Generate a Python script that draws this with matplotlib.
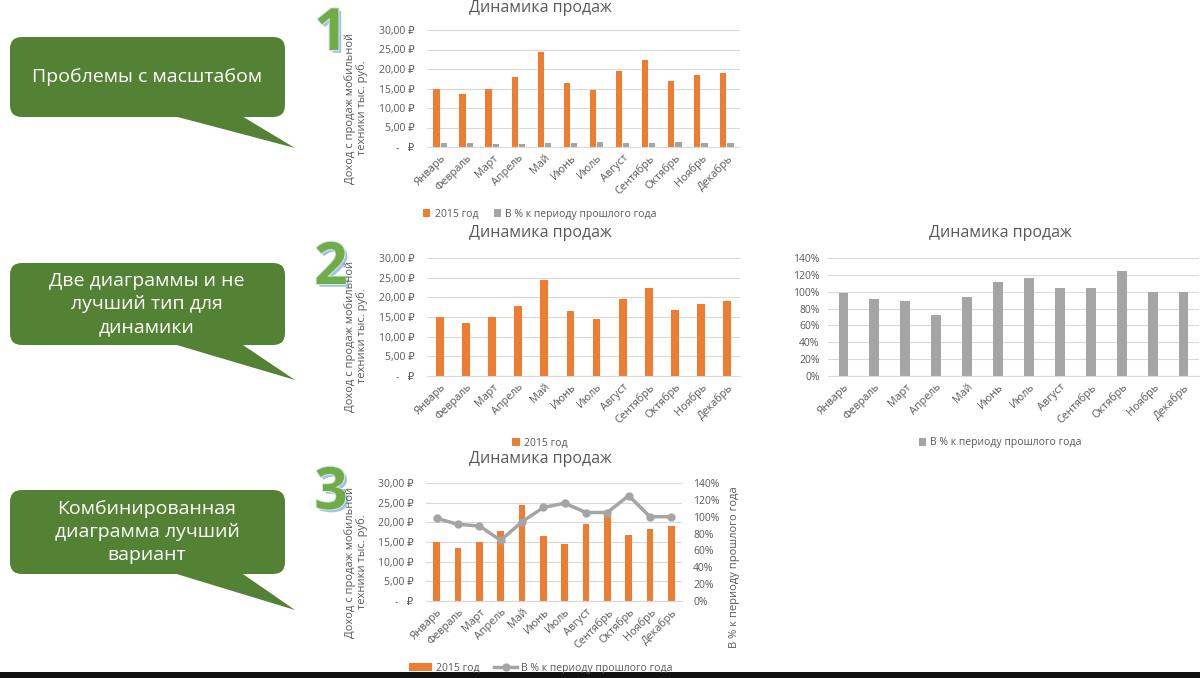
import numpy as np
import matplotlib
matplotlib.use("Agg")
import matplotlib.pyplot as plt
import matplotlib.patheffects as pe
from matplotlib.patches import FancyBboxPatch, Polygon, Rectangle
from matplotlib.ticker import FuncFormatter, MultipleLocator

plt.rcParams['font.family'] = ['Open Sans', 'DejaVu Sans']

months = ["Январь", "Февраль", "Март", "Апрель", "Май", "Июнь", "Июль",
          "Август", "Сентябрь", "Октябрь", "Ноябрь", "Декабрь"]
sales_2015 = [15.0, 13.5, 15.0, 17.9, 24.3, 16.4, 14.5, 19.5, 22.3, 16.9, 18.4, 19.0]
pct_prev = [98, 91, 89, 72, 94, 111, 116, 105, 105, 125, 100, 100]

title = "Динамика продаж"
ylab = "Доход с продаж мобильной\nтехники тыс. руб."
lab_sales = "2015 год"
lab_pct = "В % к периоду прошлого года"
notes = ["Проблемы с масштабом",
         "Две диаграммы и не\nлучший тип для\nдинамики",
         "Комбинированная\nдиаграмма лучший\nвариант"]

ORANGE = "#ED7D31"
GRAY = "#A5A5A5"
TXT = "#595959"
GRID = "#D9D9D9"
GREEN = "#548235"

W, H = 1200, 678
fig = plt.figure(figsize=(12, 6.78), dpi=100)
fig.patch.set_facecolor("white")

def ax_px(x0, y0, x1, y1):
    # pixel box (top-left origin) -> axes
    return fig.add_axes([x0 / W, 1 - y1 / H, (x1 - x0) / W, (y1 - y0) / H])

def rub(v, pos=None):
    if abs(v) < 1e-9:
        return "-   ₽"
    return f"{v:.2f} ₽".replace(".", ",")

def pct(v, pos=None):
    return f"{v:.0f}%"

def style(ax, pad=9):
    for s in ["top", "right", "left"]:
        ax.spines[s].set_visible(False)
    ax.spines["bottom"].set_color(GRID)
    ax.grid(axis="y", color=GRID, lw=0.8)
    ax.set_axisbelow(True)
    ax.tick_params(axis="y", length=0, labelsize=7.5, colors=TXT, pad=pad)
    ax.tick_params(axis="x", length=0, labelsize=7.8, colors=TXT, pad=4)
    x = np.arange(len(months))
    ax.set_xticks(x)
    ax.set_xticklabels(months, rotation=45, ha="right", rotation_mode="anchor")
    ax.set_xlim(-0.5, len(months) - 0.5)

x = np.arange(len(months))

# overlay for callouts etc.
bg = fig.add_axes([0, 0, 1, 1], zorder=-1)
bg.set_xlim(0, W)
bg.set_ylim(H, 0)
bg.axis("off")

boxes = [(37, 117, 148), (263, 345, 380), (490, 574, 610)]
for (t, b, tip), note in zip(boxes, notes):
    bg.add_patch(Polygon([(170, b - 2), (240, b - 2), (295, tip)], closed=True,
                         fc=GREEN, ec="none"))
    bg.add_patch(FancyBboxPatch((10 + 12, t + 12), 275 - 24, b - t - 24,
                                boxstyle="round,pad=12", fc=GREEN, ec="none"))
    bg.text(147, (t + b) / 2, note, color="white", fontsize=14, ha="center",
            va="center", linespacing=1.35)

bg.add_patch(Rectangle((0, 672), W, 6, fc="#111111", ec="none"))

for num, cy in [("1", 35), ("2", 269), ("3", 494)]:
    bg.text(331, cy, num, fontsize=42, fontweight="bold", color="#70AD47",
            ha="center", va="center", zorder=5,
            path_effects=[pe.withSimplePatchShadow(offset=(2, -2), shadow_rgbFace="#9DC3E6", alpha=1),
                          pe.withStroke(linewidth=1.5, foreground="#D6E4F0")])

# chart 1: both series on one axis
ax1 = ax_px(427, 30, 740, 147)
style(ax1)
w = 0.24
ax1.bar(x - 0.14, sales_2015, w, color=ORANGE, label=lab_sales)
ax1.bar(x + 0.14, np.array(pct_prev) / 100, w, color=GRAY, label=lab_pct)
ax1.set_ylim(0, 30)
ax1.yaxis.set_major_locator(MultipleLocator(5))
ax1.yaxis.set_major_formatter(FuncFormatter(rub))
fig.text(540 / W, 1 - 8 / H, title, fontsize=11.5, color=TXT, ha="center", va="center")
fig.text(356 / W, 1 - 108 / H, ylab, fontsize=8, color=TXT, rotation=90,
         ha="center", va="center", linespacing=1.1)
ax1.legend(loc="center", bbox_to_anchor=(540 / W, 1 - 214 / H), bbox_transform=fig.transFigure,
           ncol=2, frameon=False, fontsize=7.5, labelcolor=TXT, handlelength=0.7,
           handleheight=0.7, columnspacing=1.5, handletextpad=0.4)

# chart 2: sales only
ax2 = ax_px(427, 258, 740, 376)
style(ax2)
ax2.bar(x, sales_2015, 0.3, color=ORANGE, label=lab_sales)
ax2.set_ylim(0, 30)
ax2.yaxis.set_major_locator(MultipleLocator(5))
ax2.yaxis.set_major_formatter(FuncFormatter(rub))
fig.text(540 / W, 1 - 233 / H, title, fontsize=11.5, color=TXT, ha="center", va="center")
fig.text(356 / W, 1 - 336 / H, ylab, fontsize=8, color=TXT, rotation=90,
         ha="center", va="center", linespacing=1.1)
ax2.legend(loc="center", bbox_to_anchor=(540 / W, 1 - 443 / H), bbox_transform=fig.transFigure,
           frameon=False, fontsize=7.5, labelcolor=TXT, handlelength=0.7,
           handleheight=0.7, handletextpad=0.4)

# chart 3: percent only
ax3 = ax_px(828, 258, 1199, 376)
style(ax3, pad=6)
ax3.bar(x, pct_prev, 0.32, color=GRAY, label=lab_pct)
ax3.set_ylim(0, 140)
ax3.yaxis.set_major_locator(MultipleLocator(20))
ax3.yaxis.set_major_formatter(FuncFormatter(pct))
fig.text(1000 / W, 1 - 233 / H, title, fontsize=11.5, color=TXT, ha="center", va="center")
ax3.legend(loc="center", bbox_to_anchor=(1000 / W, 1 - 443 / H), bbox_transform=fig.transFigure,
           frameon=False, fontsize=7.5, labelcolor=TXT, handlelength=0.7,
           handleheight=0.7, handletextpad=0.4)

# chart 4: combined
ax4 = ax_px(426, 483, 682, 601)
style(ax4)
b4 = ax4.bar(x, sales_2015, 0.3, color=ORANGE, label=lab_sales)
ax4.set_ylim(0, 30)
ax4.yaxis.set_major_locator(MultipleLocator(5))
ax4.yaxis.set_major_formatter(FuncFormatter(rub))
ax4b = ax4.twinx()
for s in ["top", "right", "left", "bottom"]:
    ax4b.spines[s].set_visible(False)
l4, = ax4b.plot(x, pct_prev, color=GRAY, lw=2.5, marker="o", ms=5, label=lab_pct)
ax4b.set_ylim(0, 140)
ax4b.yaxis.set_major_locator(MultipleLocator(20))
ax4b.yaxis.set_major_formatter(FuncFormatter(pct))
ax4b.tick_params(length=0, labelsize=7.5, colors=TXT, pad=8)
fig.text(735 / W, 1 - 567 / H, lab_pct, fontsize=8, color=TXT, rotation=90,
         ha="center", va="center")
fig.text(540 / W, 1 - 459 / H, title, fontsize=11.5, color=TXT, ha="center", va="center")
fig.text(356 / W, 1 - 562 / H, ylab, fontsize=8, color=TXT, rotation=90,
         ha="center", va="center", linespacing=1.1)
ax4.legend([b4, l4], [lab_sales, lab_pct], loc="center", bbox_to_anchor=(541 / W, 1 - 668 / H),
           bbox_transform=fig.transFigure, ncol=2, frameon=False, fontsize=7.5,
           labelcolor=TXT, handlelength=2.2, columnspacing=1.4, handletextpad=0.4)

fig.savefig("out.png", dpi=100)
